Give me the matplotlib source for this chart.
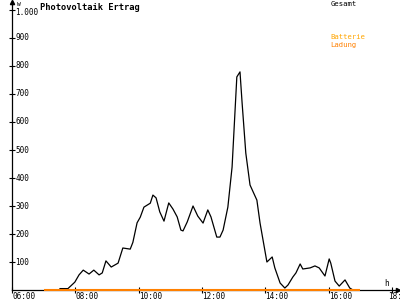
import matplotlib
matplotlib.use("Agg")
from matplotlib import pyplot as plt

# Photovoltaik Ertrag (W) over the day
times = ["07:31", "07:46", "07:59", "08:07", "08:15", "08:26", "08:35", "08:45", "08:51", "08:58",
         "09:08", "09:21", "09:30", "09:44", "09:49", "09:57", "10:03", "10:10", "10:22", "10:27",
         "10:33", "10:40", "10:48", "10:57", "11:05", "11:13", "11:20", "11:24", "11:32", "11:43",
         "11:52", "12:02", "12:11", "12:17", "12:28", "12:34", "12:40", "12:49", "12:57", "13:02",
         "13:06", "13:12", "13:16", "13:23", "13:31", "13:44", "13:50", "14:03", "14:13", "14:18",
         "14:28", "14:37", "14:43", "14:52", "14:58", "15:06", "15:11", "15:25", "15:34", "15:42",
         "15:53", "16:01", "16:04", "16:12", "16:20", "16:31", "16:40", "16:46"]
gesamt = [5, 5, 28, 54, 71, 57, 71, 54, 61, 104,
          82, 96, 150, 146, 170, 240, 260, 296, 310, 339,
          329, 279, 246, 311, 289, 261, 214, 211, 243, 300,
          264, 239, 286, 261, 189, 189, 214, 296, 439, 618,
          761, 779, 668, 489, 375, 321, 239, 100, 118, 79,
          25, 7, 18, 46, 61, 93, 75, 79, 86, 79,
          50, 111, 96, 32, 14, 36, 7, 0]
ladung_times = ["07:00", "17:00"]
ladung = [0, 0]

y_ticks = [100, 200, 300, 400, 500, 600, 700, 800, 900]
x_ticks = ["06:00", "08:00", "10:00", "12:00", "14:00", "16:00", "18:00"]


def to_h(s):
    hh, mm = s.split(":")
    return int(hh) + int(mm) / 60.0


mono = "DejaVu Sans Mono"
orange = "#ff8000"

fig = plt.figure(figsize=(4, 3), dpi=100)
ax = fig.add_axes([0, 0, 1, 1])
ax.set_xlim(5.621, 18.253)
ax.set_ylim(-35.7, 1035.7)

for s in ["top", "right"]:
    ax.spines[s].set_visible(False)
ax.spines["left"].set_position(("data", 6))
ax.spines["left"].set_bounds(0, 1030)
ax.spines["bottom"].set_position(("data", 0))
ax.spines["bottom"].set_bounds(6, 18.2)
ax.spines["left"].set_linewidth(0.9)
ax.spines["bottom"].set_linewidth(0.9)

ax.set_xticks([to_h(t) for t in x_ticks])
ax.set_yticks(y_ticks + [1000])
ax.tick_params(direction="inout", length=5, width=0.8, labelbottom=False, labelleft=False)

# arrow heads
ax.plot([6], [1030], marker="^", color="black", markersize=3, clip_on=False)
ax.plot([18.2], [0], marker=">", color="black", markersize=3, clip_on=False)

ax.plot([to_h(t) for t in times], gesamt, color="black", lw=0.9, zorder=3)
ax.plot([to_h(t) for t in ladung_times], ladung, color=orange, lw=1.5, zorder=4,
        solid_capstyle="butt", clip_on=False)

for v in y_ticks:
    ax.text(6.1, v, str(v), fontsize=5.5, family=mono, va="center", ha="left")
ax.text(6.1, 990, "1.000", fontsize=5.5, family=mono, va="center", ha="left")
ax.text(6.15, 1020, "W", fontsize=4.5, family=mono, va="center", ha="left")
for t in x_ticks:
    x = to_h(t) if t != "18:00" else to_h(t) - 0.12
    ax.text(x, -22, t, fontsize=5.5, family=mono, va="center", ha="left")
ax.text(17.75, 25, "h", fontsize=5.5, family=mono, va="center", ha="left")

ax.text(6.88, 1010, "Photovoltaik Ertrag", fontsize=6.3, family=mono,
        fontweight="bold", va="center", ha="left")
ax.text(16.05, 1020, "Gesamt", fontsize=5.2, family=mono, va="center", ha="left")
ax.text(16.05, 905, "Batterie", fontsize=5.2, family=mono, color="#ffa500", va="center", ha="left")
ax.text(16.05, 875, "Ladung", fontsize=5.2, family=mono, color=orange, va="center", ha="left")

fig.savefig("out.png", dpi=100)
